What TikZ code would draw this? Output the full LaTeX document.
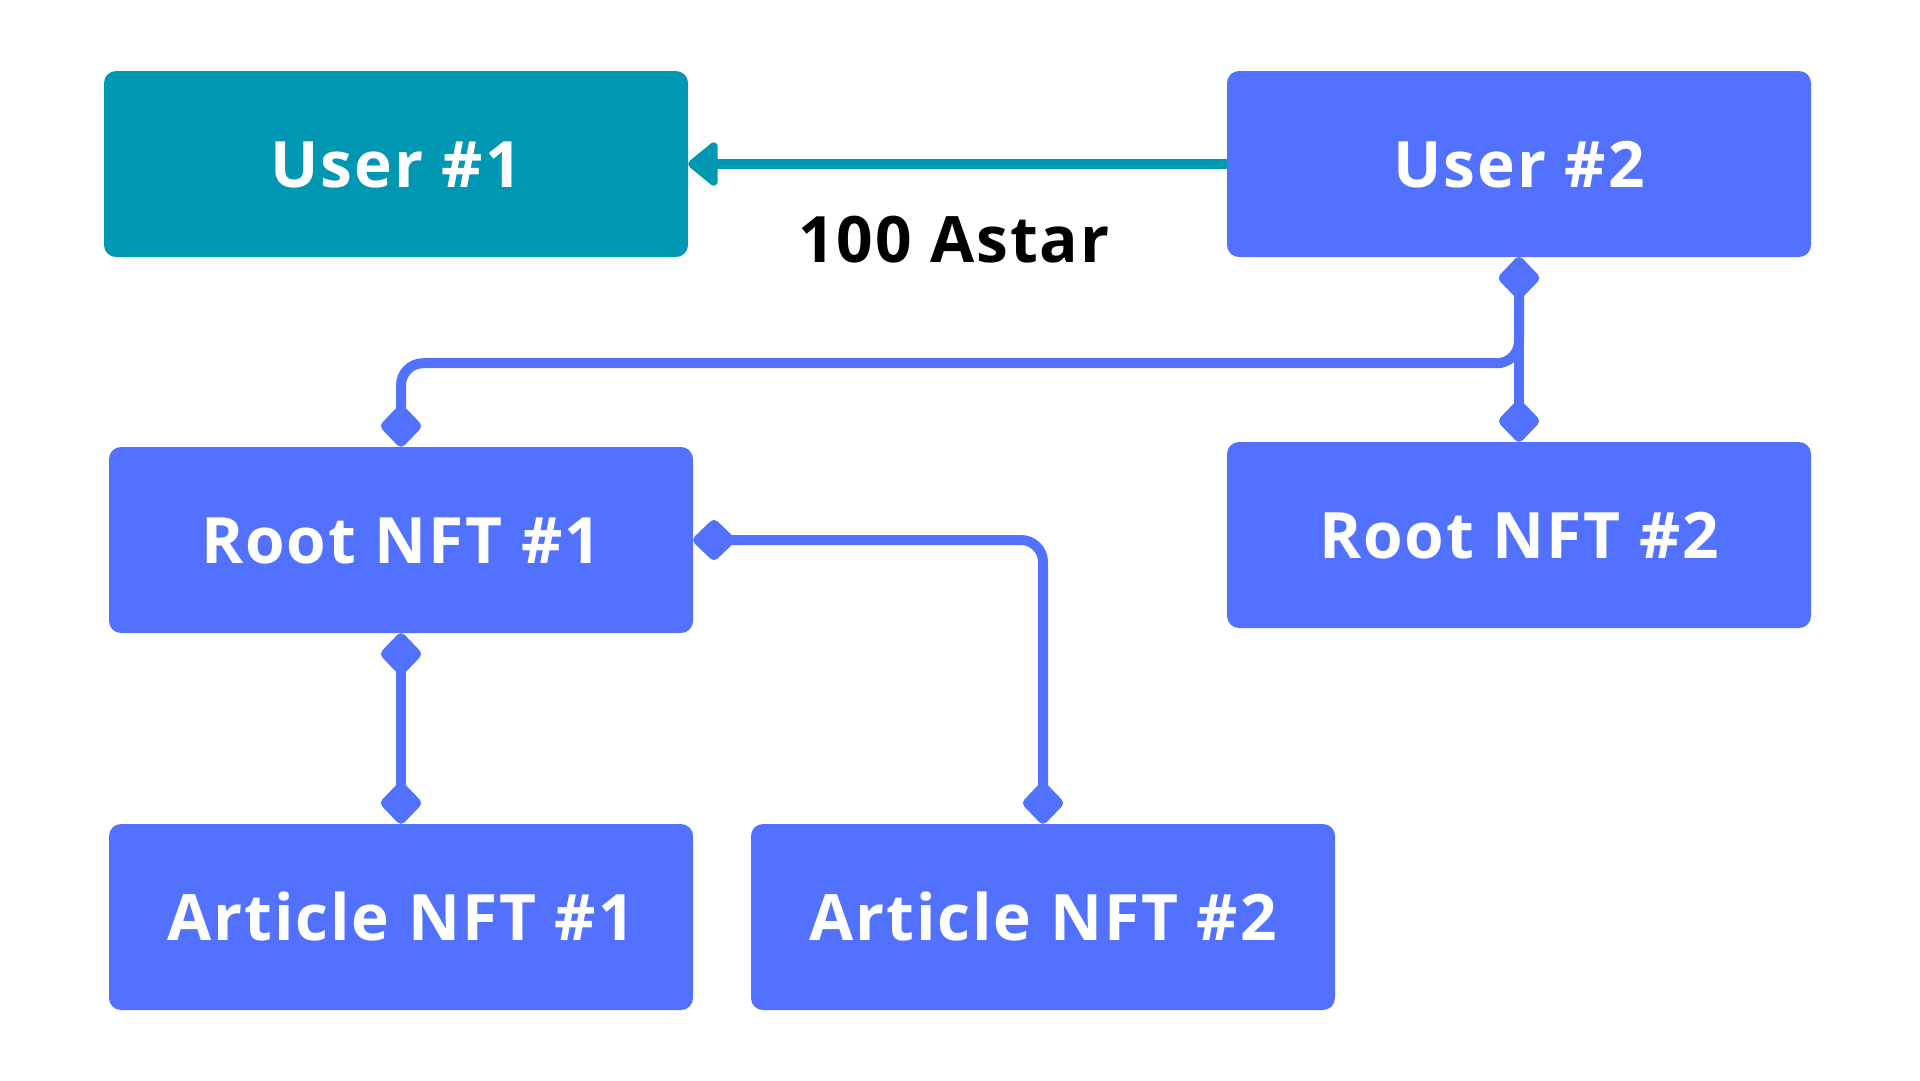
\documentclass[tikz,border=0pt]{standalone}
\usepackage{fontspec}
\setmainfont{Open Sans}[BoldFeatures={LetterSpace=3}]
\usetikzlibrary{arrows.meta}
\definecolor{teal1}{HTML}{0097B2}
\definecolor{blue1}{HTML}{5271FF}
\tikzset{
  box/.style={draw=none, fill=blue1, rounded corners=12pt, minimum width=584pt, minimum height=186pt,
    text=white, font=\fontsize{64pt}{70pt}\selectfont\bfseries, text height=46pt, text depth=0pt, inner sep=0pt},
  conn/.style={draw=blue1, line width=10pt, {Diamond[length=46pt,width=44pt,round]}-{Diamond[length=46pt,width=44pt,round]}},
  pay/.style={draw=teal1, line width=10pt, -{Triangle[length=32pt,width=50pt,round]}}
}
\begin{document}
\begin{tikzpicture}[x=1pt,y=-1pt]
\useasboundingbox (0,0) rectangle (1920,1080);
\fill[white] (0,0) rectangle (1920,1080);
\node[box, fill=teal1] (u1) at (396,164) {User \#1};
\node[box] (u2) at (1519,164) {User \#2};
\node[box] (r1) at (401,540) {Root NFT \#1};
\node[box] (r2) at (1519,535) {Root NFT \#2};
\node[box] (a1) at (401,917) {Article NFT \#1};
\node[box] (a2) at (1043,917) {Article NFT \#2};
\draw[pay] (u2.west) -- (u1.east);
\node[font=\fontsize{64pt}{70pt}\selectfont\bfseries, anchor=base, inner sep=0pt] (amt) at (954,262) {100 Astar};
\draw[conn] (u2.south) -- (r2.north);
\draw[conn, rounded corners=22pt] (u2.south) -- ++(0,106) -| (r1.north);
\draw[conn] (r1.south) -- (a1.north);
\draw[conn, rounded corners=22pt] (r1.east) -| (a2.north);
\end{tikzpicture}
\end{document}
